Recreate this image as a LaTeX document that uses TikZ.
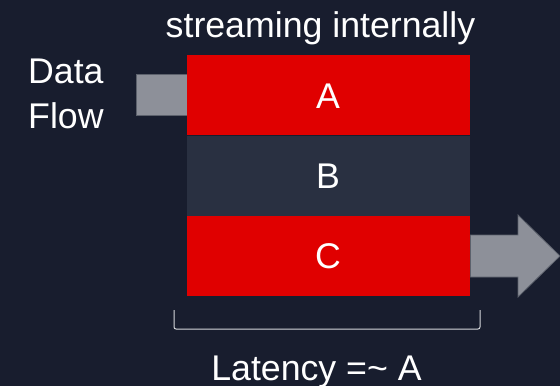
\documentclass[tikz,border=0pt]{standalone}
\usepackage{fontspec}
\setmainfont{Liberation Sans}
\definecolor{bg}{HTML}{181D2E}
\definecolor{stagered}{HTML}{E00000}
\definecolor{stagedark}{HTML}{293041}
\definecolor{flowgray}{HTML}{8D9099}
\definecolor{flowedge}{HTML}{5C616C}
\definecolor{bracketgray}{HTML}{D6D8DC}
\begin{document}
\begin{tikzpicture}[x=1pt,y=-1pt,
  lbl/.style={text=white,font=\fontsize{35.7}{42}\selectfont,inner sep=0pt,anchor=base},
  stage/.style={minimum width=283pt,minimum height=80pt,inner sep=0pt,anchor=north west},
  flow/.style={fill=flowgray,draw=flowedge,line width=0.8pt}]
  % background
  \fill[bg] (0,0) rectangle (560,386);
  \useasboundingbox (0,0) rectangle (560,386);

  % incoming data
  \path[flow] (136,74) rectangle (187,115);
  \coordinate (inl) at (136,94.5);

  % three stages
  \node[stage,fill=stagered] (a) at (187,55) {};
  \node[stage,fill=stagedark] (b) at (187,136) {};
  \node[stage,fill=stagered] (c) at (187,216) {};
  \node[lbl] (la) at (328,108) {A};
  \node[lbl] (lb) at (328,188) {B};
  \node[lbl] (lc) at (328,268) {C};

  % outgoing arrow
  \path[flow] (c.east |- 0,235) -- (518,235) -- (518,215) -- (560,256)
    -- (518,297) -- (518,277) -- (c.east |- 0,277) -- cycle;

  % labels
  \node[lbl] (top) at (320.5,37) {streaming internally};
  \node[lbl,anchor=base west] (data) at (28,83) {Data};
  \node[lbl,anchor=base west] (flowlbl) at (28,128) {Flow};
  \node[lbl] (lat) at (316.5,380) {Latency =\textasciitilde{} A};

  % latency bracket
  \coordinate (bl) at (174,310);
  \coordinate (br) at (480,310);
  \draw[bracketgray,line width=1pt,rounded corners=2pt]
    (bl) -- (174,329) -- (480,329) -- (br);
\end{tikzpicture}
\end{document}
